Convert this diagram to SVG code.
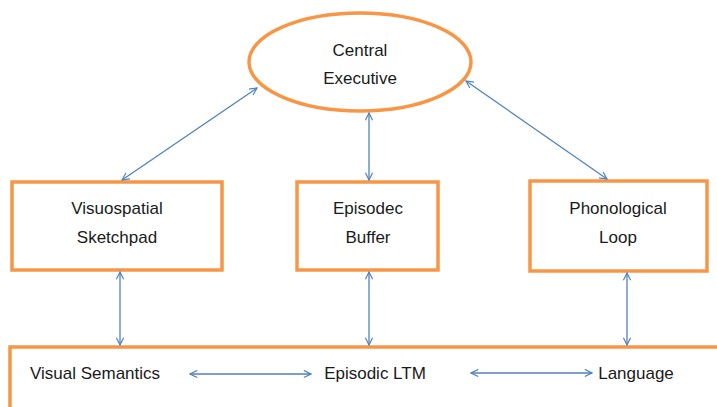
<svg xmlns="http://www.w3.org/2000/svg" width="717" height="407" viewBox="0 0 717 407">
<defs>
<marker id="ah" viewBox="0 0 10 10" refX="9" refY="5" markerWidth="9" markerHeight="9" markerUnits="userSpaceOnUse" orient="auto-start-reverse">
<path d="M1,1 L9,5 L1,9" fill="none" stroke="#4f81bd" stroke-width="1.3"/>
</marker>
<style>
.box{fill:#fff;stroke:#f79646;stroke-width:3.5}
.t{font-family:"Liberation Sans",Arial,sans-serif;font-size:17px;fill:#1a1a1a;text-anchor:middle}
.c{stroke:#4f81bd;stroke-width:1.3;fill:none;marker-start:url(#ah);marker-end:url(#ah)}
</style>
</defs>
<rect width="717" height="407" fill="#fff"/>
<g id="central-executive">
<ellipse class="box" cx="360" cy="62" rx="111" ry="49"/>
<text class="t" x="360" y="56">Central</text>
<text class="t" x="360" y="84">Executive</text>
</g>
<g id="visuospatial">
<rect class="box" x="12" y="182" width="210" height="88"/>
<text class="t" x="117" y="214">Visuospatial</text>
<text class="t" x="117" y="243">Sketchpad</text>
</g>
<g id="episodic-buffer">
<rect class="box" x="297" y="182" width="141" height="88"/>
<text class="t" x="368" y="214">Episodec</text>
<text class="t" x="368" y="243">Buffer</text>
</g>
<g id="phonological">
<rect class="box" x="530" y="181" width="177" height="90"/>
<text class="t" x="618" y="214">Phonological</text>
<text class="t" x="618" y="243">Loop</text>
</g>
<g id="ltm">
<rect class="box" x="10" y="347" width="720" height="80"/>
<text class="t" x="95" y="379">Visual Semantics</text>
<text class="t" x="375" y="379">Episodic LTM</text>
<text class="t" x="636" y="379">Language</text>
</g>
<g id="connectors">
<line class="c" x1="257" y1="88" x2="122" y2="180"/>
<line class="c" x1="369" y1="113" x2="369" y2="180"/>
<line class="c" x1="466" y1="81" x2="607" y2="179"/>
<line class="c" x1="120" y1="272" x2="120" y2="345"/>
<line class="c" x1="369" y1="272" x2="369" y2="345"/>
<line class="c" x1="627" y1="273" x2="627" y2="345"/>
<line class="c" x1="190" y1="374" x2="311" y2="374"/>
<line class="c" x1="471" y1="373" x2="592" y2="373"/>
</g>
</svg>
